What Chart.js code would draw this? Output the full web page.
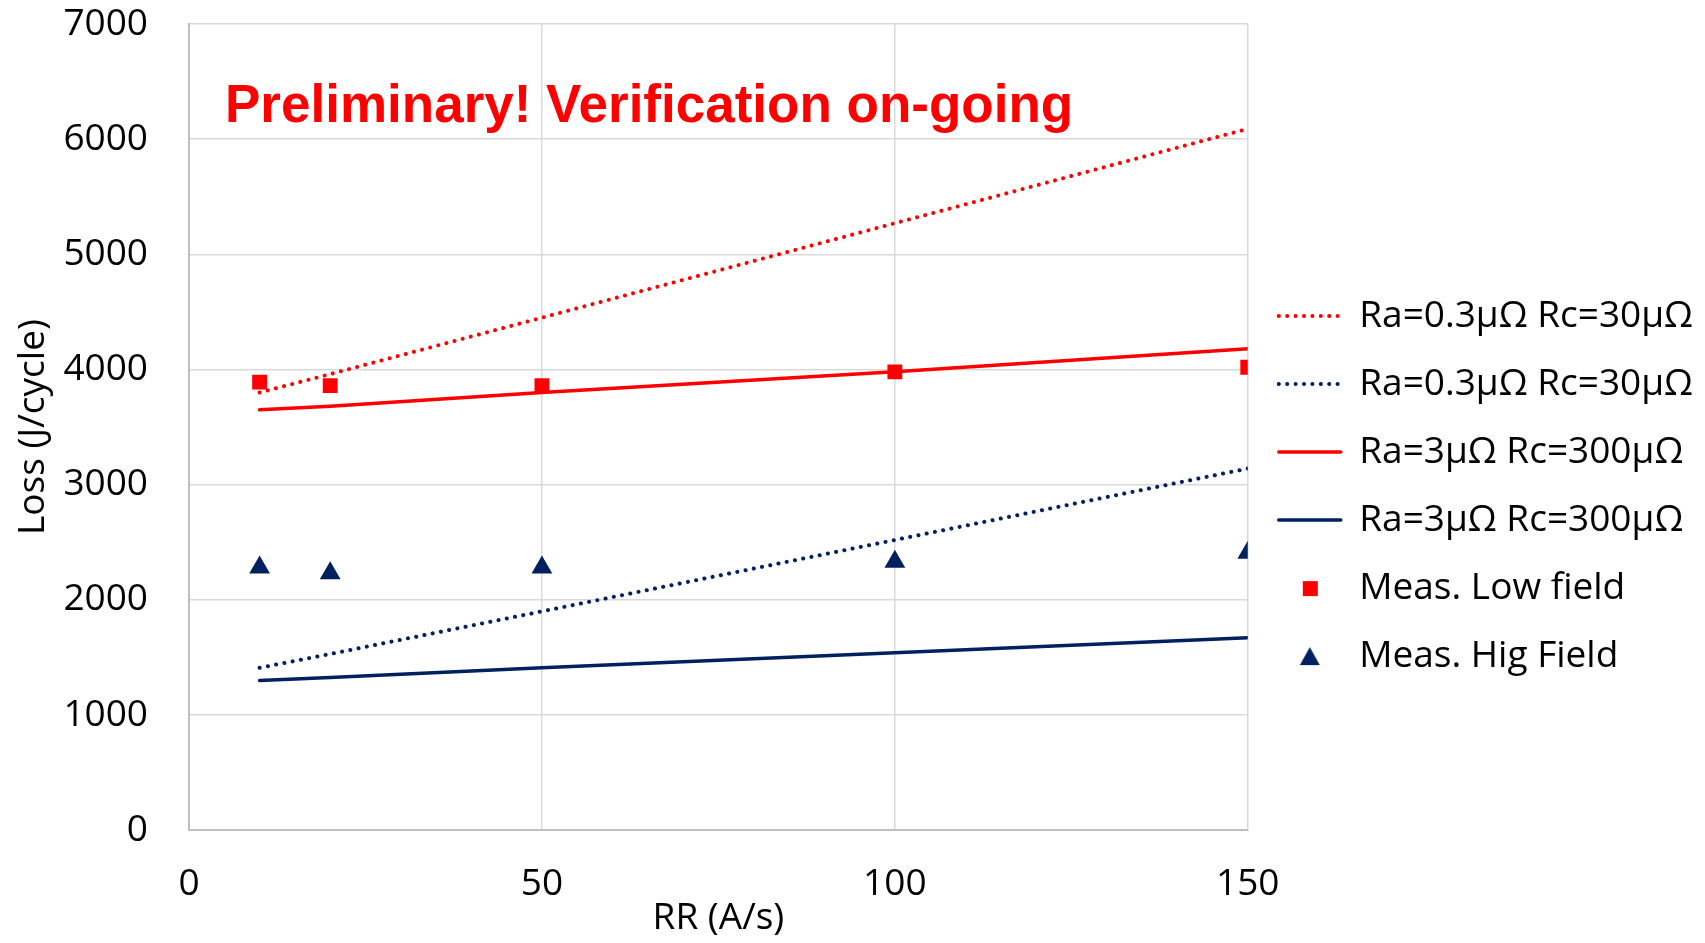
<!DOCTYPE html>
<html>
<head>
<meta charset="utf-8">
<script src="https://cdn.jsdelivr.net/npm/chart.js@4/dist/chart.umd.min.js"></script>
<style>
  html, body { margin: 0; padding: 0; background: #fff; }
  #wrap { width: 1705px; height: 943px; }
</style>
</head>
<body>
<div id="wrap"><canvas id="lossChart"></canvas></div>
<script>
var rampRates = [10, 20, 50, 100, 150];

var lowFieldFine = [3800, 3960, 4450, 5270, 6090];
var highFieldFine = [1410, 1530, 1900, 2520, 3140];
var lowFieldCoarse = [3650, 3680, 3800, 3980, 4180];
var highFieldCoarse = [1300, 1325, 1410, 1540, 1670];

var measLow = [3890, 3860, 3860, 3980, 4020];
var measHigh = [2280, 2230, 2280, 2330, 2410];

var xTicks = [0, 50, 100, 150];
var yTicks = [0, 1000, 2000, 3000, 4000, 5000, 6000, 7000];

var RED = '#ff0000';
var NAVY = '#002060';
var FONT = '"Open Sans", sans-serif';

function toPoints(values) {
    return values.map(function(v, i) { return { x: rampRates[i], y: v }; });
}

function lineSet(label, values, color, dotted) {
    return {
        label: label,
        data: toPoints(values),
        showLine: true,
        borderColor: color,
        backgroundColor: color,
        borderWidth: dotted ? 4 : 3.5,
        borderDash: dotted ? [0.1, 8.3] : [],
        borderCapStyle: 'round',
        pointRadius: 0,
        pointHoverRadius: 0,
        pointStyle: 'line',
        order: 1
    };
}

function markerSet(label, values, color, style, radius) {
    return {
        label: label,
        data: toPoints(values),
        showLine: false,
        borderColor: color,
        backgroundColor: color,
        borderWidth: 0,
        pointStyle: style,
        pointRadius: radius,
        pointHoverRadius: radius,
        order: 0
    };
}

// small legend swatches so markers are not stretched to the line width
function swatch(kind, color) {
    var c = document.createElement('canvas');
    c.width = 22; c.height = 20;
    var g = c.getContext('2d');
    g.fillStyle = color;
    if (kind === 'rect') {
        g.fillRect(4, 3, 15, 15);
    } else {
        g.beginPath();
        g.moveTo(11, 1);
        g.lineTo(21, 19);
        g.lineTo(1, 19);
        g.closePath();
        g.fill();
    }
    return c;
}

var noteText = {
    id: 'noteText',
    afterDatasetsDraw: function(chart) {
        var ctx = chart.ctx;
        var area = chart.chartArea;
        ctx.save();
        ctx.font = 'bold 53px "Liberation Sans", Arial, sans-serif';
        ctx.fillStyle = RED;
        ctx.textBaseline = 'alphabetic';
        ctx.fillText('Preliminary! Verification on-going', area.left + 36, area.top + 98);
        ctx.restore();
    }
};

var ctx = document.getElementById('lossChart').getContext('2d');
var chart = new Chart(ctx, {
    type: 'scatter',
    data: {
        datasets: [
            lineSet('Ra=0.3\u03bc\u03a9 Rc=30\u03bc\u03a9', lowFieldFine, RED, true),
            lineSet('Ra=0.3\u03bc\u03a9 Rc=30\u03bc\u03a9', highFieldFine, NAVY, true),
            lineSet('Ra=3\u03bc\u03a9 Rc=300\u03bc\u03a9', lowFieldCoarse, RED, false),
            lineSet('Ra=3\u03bc\u03a9 Rc=300\u03bc\u03a9', highFieldCoarse, NAVY, false),
            markerSet('Meas. Low field', measLow, RED, 'rect', 10.5),
            markerSet('Meas. Hig Field', measHigh, NAVY, 'triangle', 12)
        ]
    },
    options: {
        responsive: true,
        maintainAspectRatio: false,
        animation: false,
        layout: { padding: { left: 11, top: 0, right: 2, bottom: 2 } },
        scales: {
            x: {
                type: 'linear',
                min: 0,
                max: 150,
                afterBuildTicks: function(axis) {
                    axis.ticks = xTicks.map(function(v) { return { value: v }; });
                },
                afterFit: function(scale) {
                    // tick padding is counted twice by the scale, take one back
                    scale.height -= scale.options.ticks.padding;
                    scale.paddingLeft = 12;
                    scale.paddingRight = 34;
                },
                grid: { color: '#d9d9d9', lineWidth: 1.5, drawTicks: false },
                border: { color: '#bfbfbf', width: 2 },
                ticks: {
                    color: '#000',
                    padding: 32,
                    font: { family: FONT, size: 37 }
                },
                title: {
                    display: true,
                    text: 'RR (A/s)',
                    color: '#000',
                    padding: { top: -10, bottom: 0 },
                    font: { family: FONT, size: 37 }
                }
            },
            y: {
                min: 0,
                max: 7000,
                afterBuildTicks: function(axis) {
                    axis.ticks = yTicks.map(function(v) { return { value: v }; });
                },
                afterFit: function(scale) {
                    scale.width -= scale.options.ticks.padding;
                    scale.paddingTop = 24;
                    scale.paddingBottom = 24;
                },
                grid: { color: '#d9d9d9', lineWidth: 1.5, drawTicks: false },
                border: { color: '#bfbfbf', width: 2 },
                ticks: {
                    color: '#000',
                    padding: 41,
                    callback: function(v) { return String(v); },
                    font: { family: FONT, size: 37 }
                },
                title: {
                    display: true,
                    text: 'Loss (J/cycle)',
                    color: '#000',
                    padding: { top: 0, bottom: 8 },
                    font: { family: FONT, size: 37 }
                }
            }
        },
        plugins: {
            tooltip: { enabled: false },
            legend: {
                position: 'right',
                align: 'center',
                maxWidth: 520,
                title: { display: true, text: ' ', padding: 0, font: { size: 26 } },
                labels: {
                    color: '#000',
                    usePointStyle: true,
                    pointStyleWidth: 62,
                    boxHeight: 20,
                    padding: 31,
                    font: { family: FONT, size: 37 },
                    sort: function(a, b) { return a.datasetIndex - b.datasetIndex; },
                    generateLabels: function(chart) {
                        var items = Chart.defaults.plugins.legend.labels.generateLabels(chart);
                        items.forEach(function(item) {
                            var ds = chart.data.datasets[item.datasetIndex];
                            if (ds.showLine) {
                                item.lineDash = ds.borderDash;
                                item.lineCap = 'round';
                                item.lineWidth = ds.borderWidth;
                            } else if (ds.pointStyle === 'rect') {
                                item.pointStyle = swatch('rect', RED);
                            } else {
                                item.pointStyle = swatch('triangle', NAVY);
                            }
                        });
                        return items;
                    }
                }
            }
        }
    },
    plugins: [noteText]
});
</script>
</body>
</html>
